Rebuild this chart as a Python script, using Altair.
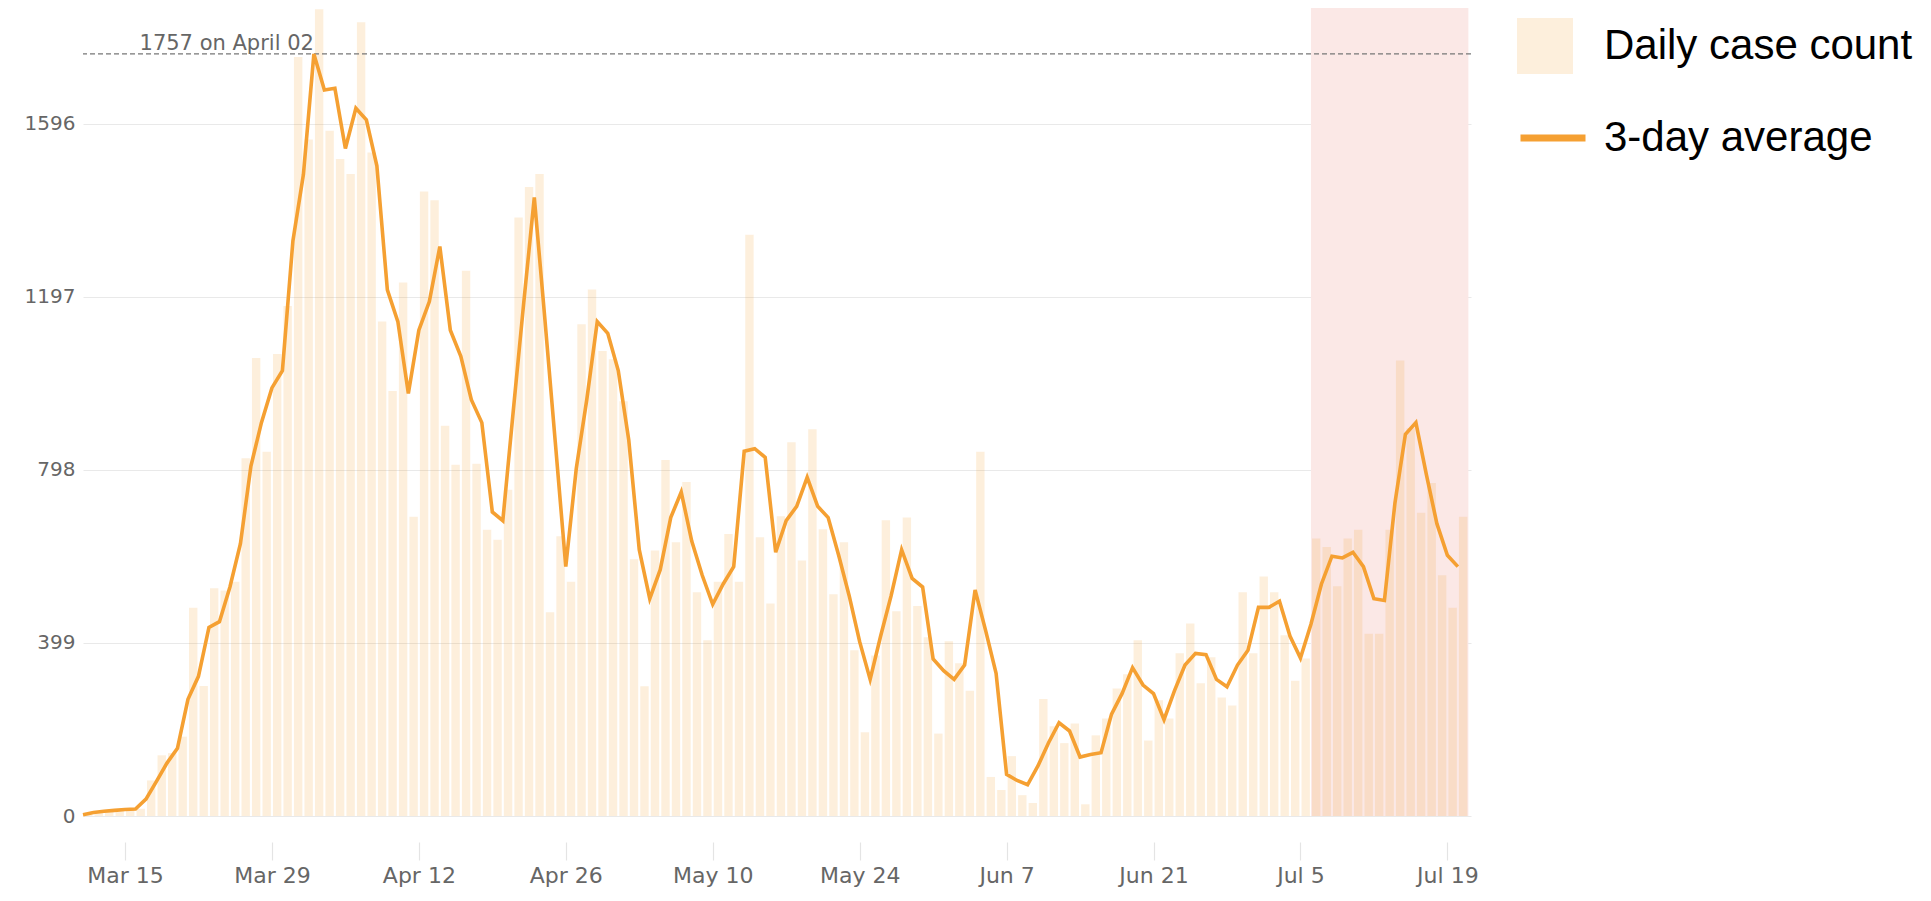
import altair as alt
import numpy as np
import pandas as pd

# ---------------- data ----------------
START_DATE = "2020-03-11"

# daily case counts, Mar 11 .. Jul 20 (one value per day)
daily_cases = [
    3, 10, 12, 14, 17, 17, 82, 140, 145, 183,            # Mar 11-20
    480, 300, 525, 520, 540, 825, 1056, 840, 1065, 1176,  # Mar 21-30
    1750, 1560, 1860, 1580, 1515, 1480, 1830, 1530, 1140, 980,  # Mar 31-Apr 9
    1230, 690, 1440, 1420, 900, 810, 1257, 812, 660, 637,  # Apr 10-19
    752, 1380, 1450, 1480, 470, 645, 540, 1134, 1214, 1072,  # Apr 20-29
    1053, 956, 592, 299, 612, 821, 631, 770, 516, 405,    # Apr 30-May 9
    540, 650, 540, 1340, 643, 490, 691, 862, 589, 892,    # May 10-19
    661, 511, 631, 382, 193, 370, 682, 472, 688, 484,     # May 20-29
    412, 190, 403, 352, 289, 840, 90, 60, 138, 48,        # May 30-Jun 8
    30, 270, 207, 168, 213, 27, 186, 225, 294, 327,       # Jun 9-18
    405, 174, 267, 225, 375, 444, 306, 366, 273, 255,     # Jun 19-28
    516, 375, 552, 516, 417, 312, 363, 640, 620, 530,     # Jun 29-Jul 8
    640, 660, 420, 420, 660, 1050, 894, 699, 768, 555,    # Jul 9-18
    480, 690,                                             # Jul 19-20
]

# 3-day average line, Mar 11 .. Jul 20
avg_3day = [
    3, 8, 11, 13, 15, 16, 39, 80, 122, 156,
    269, 322, 435, 448, 528, 628, 807, 907, 987, 1027,
    1326, 1479, 1757, 1674, 1678, 1539, 1632, 1605, 1499, 1213,
    1140, 974, 1120, 1186, 1313, 1120, 1060, 960, 907, 701,
    681, 935, 1185, 1426, 1148, 862, 575, 801, 960, 1140,
    1113, 1027, 867, 614, 501, 568, 688, 747, 634, 555,
    488, 535, 575, 841, 847, 827, 608, 681, 714, 781,
    714, 688, 601, 508, 402, 315, 415, 508, 614, 548,
    528, 362, 335, 315, 348, 521, 428, 329, 96, 82,
    72, 116, 169, 215, 196, 136, 142, 146, 235, 282,
    342, 302, 282, 222, 289, 348, 375, 372, 315, 298,
    348, 382, 481, 481, 495, 415, 364, 442, 535, 599,
    595, 608, 575, 501, 497, 721, 880, 907, 787, 674,
    601, 575,
]

y_ticks = [0, 399, 798, 1197, 1596]
x_tick_dates = ["2020-03-15", "2020-03-29", "2020-04-12", "2020-04-26", "2020-05-10",
                "2020-05-24", "2020-06-07", "2020-06-21", "2020-07-05", "2020-07-19"]
highlight_start = "2020-07-06"
highlight_end = "2020-07-21"
x_domain = ["2020-03-11T00:00:00", "2020-07-21T06:00:00"]
y_max = 1863

series_bar = "Daily case count"
series_line = "3-day average"

# ---------------- tables ----------------
dates = pd.date_range(START_DATE, periods=len(daily_cases), freq="D")
bars_df = pd.DataFrame({
    "start": dates + pd.Timedelta(hours=2.4),
    "end": dates + pd.Timedelta(hours=21.6),
    "cases": daily_cases,
    "series": series_bar,
})
line_df = pd.DataFrame({"date": dates, "avg": avg_3day, "series": series_line})

peak_i = int(np.argmax(avg_3day))
peak_df = pd.DataFrame({
    "date": [dates[peak_i]],
    "value": [avg_3day[peak_i]],
    "label": [f"{avg_3day[peak_i]} on {dates[peak_i].strftime('%B %d')}"],
})
hl_df = pd.DataFrame({"start": [pd.Timestamp(highlight_start)],
                      "end": [pd.Timestamp(highlight_end)]})


def dt(s):
    t = pd.Timestamp(s)
    return alt.DateTime(year=t.year, month=t.month, date=t.day, hours=t.hour)


x_scale = alt.Scale(domain=[dt(d) for d in x_domain], nice=False)
y_scale = alt.Scale(domain=[0, y_max], nice=False, zero=True)

x_axis = alt.Axis(values=[dt(d) for d in x_tick_dates], format="%b %-d", title=None,
                  grid=False, domain=False, ticks=True, tickColor="#e4e4e4",
                  tickSize=18, tickWidth=1.2, offset=26, labelPadding=5,
                  labelFont="DejaVu Sans", labelFontSize=22, labelColor="#666666",
                  labelOverlap=False, labelFlush=False)
y_axis = alt.Axis(values=y_ticks, format="d", title=None, grid=True, gridColor="#e9e9e9",
                  gridWidth=1, ticks=False, domain=False, labelPadding=8,
                  labelFont="DejaVu Sans", labelFontSize=20, labelColor="#666666")

ORANGE = "#f5a032"

highlight = alt.Chart(hl_df).mark_rect(color="#fbe8e6").encode(
    x=alt.X("start:T", scale=x_scale, axis=x_axis, title=None),
    x2="end:T",
    y=alt.datum(y_max, scale=y_scale, axis=y_axis),
    y2=alt.datum(0),
)

bars = alt.Chart(bars_df).mark_bar(opacity=0.17).encode(
    x=alt.X("start:T", scale=x_scale, axis=x_axis, title=None),
    x2="end:T",
    y=alt.Y("cases:Q", scale=y_scale, axis=y_axis, title=None),
    y2=alt.datum(0),
    fill=alt.Fill("series:N", scale=alt.Scale(domain=[series_bar], range=[ORANGE]),
                  legend=alt.Legend(title=None, orient="none", legendX=1434, legendY=10,
                                    symbolType="square", symbolSize=3136,
                                    symbolStrokeWidth=0, symbolOpacity=0.17,
                                    labelFont="Liberation Sans", labelFontSize=42,
                                    labelColor="#000000", labelOffset=31,
                                    labelLimit=0, padding=0)),
)

peak_rule = alt.Chart(peak_df).mark_rule(color="#777777", strokeDash=[5, 3],
                                         strokeWidth=1.2).encode(
    y=alt.Y("value:Q", scale=y_scale, axis=y_axis, title=None),
)

line = alt.Chart(line_df).mark_line(strokeWidth=3.6).encode(
    x=alt.X("date:T", scale=x_scale, axis=x_axis, title=None),
    y=alt.Y("avg:Q", scale=y_scale, axis=y_axis, title=None),
    stroke=alt.Stroke("series:N", scale=alt.Scale(domain=[series_line], range=[ORANGE]),
                      legend=alt.Legend(title=None, orient="none", legendX=1434, legendY=94,
                                        symbolType="stroke", symbolSize=4225,
                                        symbolStrokeWidth=7,
                                        labelFont="Liberation Sans", labelFontSize=42,
                                        labelColor="#000000", labelOffset=15,
                                        labelLimit=0, padding=0)),
)

peak_text = alt.Chart(peak_df).mark_text(align="right", baseline="alphabetic", dy=-4,
                                         font="DejaVu Sans", fontSize=21,
                                         color="#666666").encode(
    x=alt.X("date:T", scale=x_scale, axis=x_axis, title=None),
    y=alt.Y("value:Q", scale=y_scale, axis=y_axis, title=None),
    text="label:N",
)

chart = alt.layer(highlight, bars, peak_rule, line, peak_text).resolve_scale(
    fill="independent", stroke="independent"
).properties(
    width=1388,
    height=808,
    background="white",
    autosize=alt.AutoSizeParams(type="none"),
    padding={"left": 75, "top": 0, "right": 452, "bottom": 72},
).configure_view(strokeWidth=0, stroke="transparent")

chart.save("out.html", embed_options={"renderer": "svg", "actions": False})
